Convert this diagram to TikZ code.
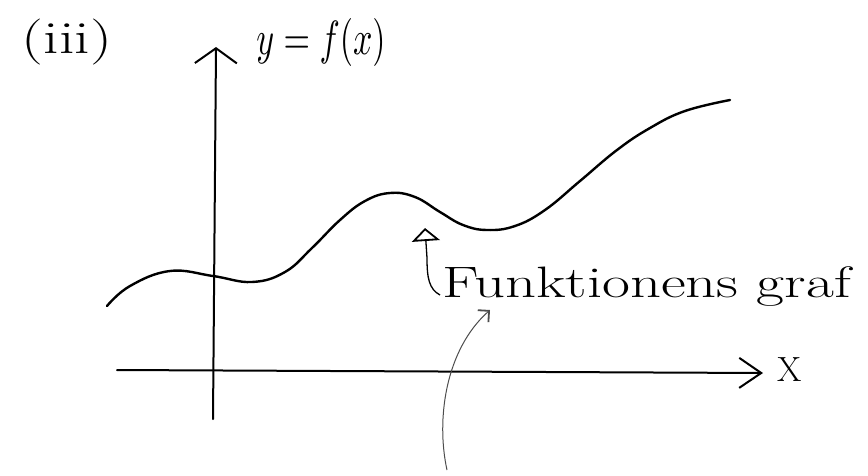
\documentclass[tikz,border=0pt]{standalone}
\usetikzlibrary{arrows.meta}
\begin{document}
\begin{tikzpicture}[x=1pt,y=-1pt,
  axis/.style={line width=2pt,line cap=round},
  curvestyle/.style={line width=2.4pt,line cap=round},
  ptrone/.style={line width=1.3pt,-{Triangle[open,length=13pt,width=28pt,line width=1.8pt]}},
  ptrtwo/.style={line width=1pt,black!70,-{Straight Barb[length=8pt,width=16pt,line width=1.8pt]}},
  lbl/.style={inner sep=0pt,anchor=center}]
\useasboundingbox (0,0) rectangle (868,475);
% axes
\coordinate (ybot) at (213,419);
\coordinate (ytop) at (216,47);
\coordinate (xleft) at (117,370);
\coordinate (xright) at (763,373);
\draw[axis,-{Straight Barb[length=15pt,width=42pt,line width=2pt]}] (ybot) -- (ytop);
\draw[axis,-{Straight Barb[length=22pt,width=30pt,line width=2pt]}] (xleft) -- (xright);
% graph
\draw[curvestyle] plot[smooth,tension=0.7] coordinates {
 (107,306) (130,286) (170,271) (213,276) (252,282)
 (285,272) (312,248) (340,220) (365,201) (390,193) (415,197) (440,212) (463,225)
 (487,230) (515,226) (545,210) (580,181) (617,150) (650,128) (685,111) (730,100)};
% labels
\node[lbl] (iii) at (67,42) {\fontsize{46}{50}\selectfont\scalebox{1.35}[1]{(iii)}};
\node[lbl] (yfx) at (321,42) {\scalebox{3.4}[4.8]{$y = f(x)$}};
\node[lbl] (xl) at (790,370) {\fontsize{35}{38}\selectfont X};
\node[lbl,anchor=base west] (graf) at (442,297) {\fontsize{44}{48}\selectfont\scalebox{1.38}[1]{Funktionens graf}};
% pointers
\coordinate (p1s) at (440,295);
\coordinate (p1t) at (425,228);
\draw[ptrone] (p1s) .. controls (429,289) and (427,278) .. (427,258) -- (p1t);
\coordinate (p2s) at (447,470);
\coordinate (p2t) at (490,310);
\draw[ptrtwo] (p2s) .. controls (436,420) and (445,350) .. (p2t);
\end{tikzpicture}
\end{document}
